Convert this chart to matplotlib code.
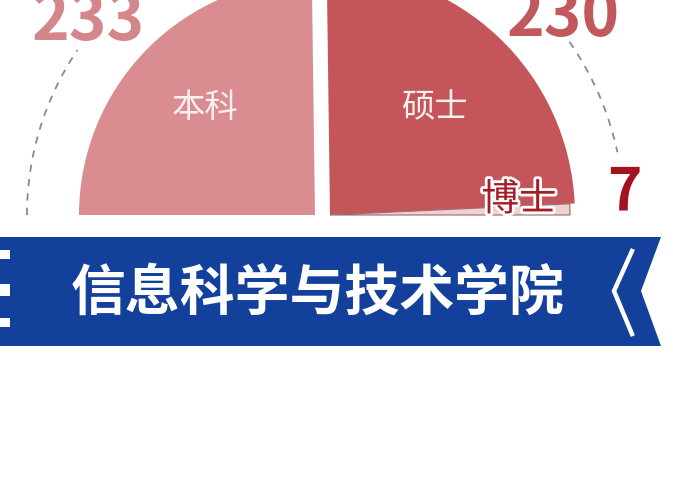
import matplotlib
matplotlib.use('Agg')
import matplotlib.pyplot as plt
from matplotlib.patches import Wedge, Arc, Polygon, Rectangle
import matplotlib.patheffects as pe
import numpy as np

plt.rcParams['font.family'] = ['Noto Sans CJK SC', 'DejaVu Sans']

# graduates by degree level
degrees = ['本科', '硕士', '博士']
counts = [233, 230, 7]
title = '信息科学与技术学院'

wedge_colors = ['#d98d91', '#c4565b', '#f0cfd1']
value_colors = ['#d4868b', '#c0585d', '#a3121d']

W, H = 673, 493
fig = plt.figure(figsize=(W / 100, H / 100), dpi=100)
ax = fig.add_axes([0, 0, 1, 1])
ax.set_xlim(0, W)
ax.set_ylim(H, 0)
ax.set_aspect('equal')
ax.axis('off')

# half pie: angles run clockwise from the left (180 deg) to the right (0 deg)
total = sum(counts)
spans = [180.0 * c / total for c in counts]
starts = 180.0 - np.concatenate([[0], np.cumsum(spans)[:-1]])
ends = starts - np.array(spans)

centers = [(315, 215), (330, 215), (330, 215)]
radii = [236, 245, 240]
edges = ['none', 'none', '#9a6a70']
for i in range(len(counts)):
    # y axis is inverted, so screen angle a maps to data angle -a
    w = Wedge(centers[i], radii[i], -starts[i], -ends[i],
              facecolor=wedge_colors[i], edgecolor=edges[i], linewidth=0.8)
    ax.add_patch(w)

# category names inside the slices
ax.text(205, 108, degrees[0], color='#fdf0f0', fontsize=24,
        ha='center', va='center')
ax.text(435, 108, degrees[1], color='#fdf0f0', fontsize=24,
        ha='center', va='center')
ax.text(519, 200, degrees[2], color='#a51c27', fontsize=27,
        ha='center', va='center',
        path_effects=[pe.withStroke(linewidth=4, foreground='white')])

# dashed leader arcs
ax.add_patch(Arc((322, 215), 590, 590, theta1=180, theta2=214,
                 color='#8a8a8a', lw=1.3, ls=(0, (4, 4))))
ax.add_patch(Arc((322, 215), 604, 604, theta1=325, theta2=348,
                 color='#8a8a8a', lw=1.3, ls=(0, (4, 4))))

# values
ax.text(88, 40, str(counts[0]), color=value_colors[0], fontsize=46,
        fontweight='bold', ha='center', va='baseline')
ax.text(563, 36, str(counts[1]), color=value_colors[1], fontsize=46,
        fontweight='bold', ha='center', va='baseline')
ax.text(624, 210, str(counts[2]), color=value_colors[2], fontsize=42,
        fontweight='bold', ha='center', va='baseline')

# title banner
banner = Polygon([(0, 237), (661, 237), (641, 291), (661, 346), (0, 346)],
                 closed=True, facecolor='#12409a', edgecolor='none')
ax.add_patch(banner)
ax.plot([632, 614, 632], [251, 291, 334], color='white', lw=3.2,
        solid_joinstyle='miter')
for y0, h in [(250, 9), (284, 12), (318, 9)]:
    ax.add_patch(Rectangle((0, y0), 10, h, facecolor='white', edgecolor='none'))
ax.text(318, 293, title, color='white', fontsize=39.5, fontweight='bold',
        ha='center', va='center')

fig.savefig('out.png', dpi=100)
